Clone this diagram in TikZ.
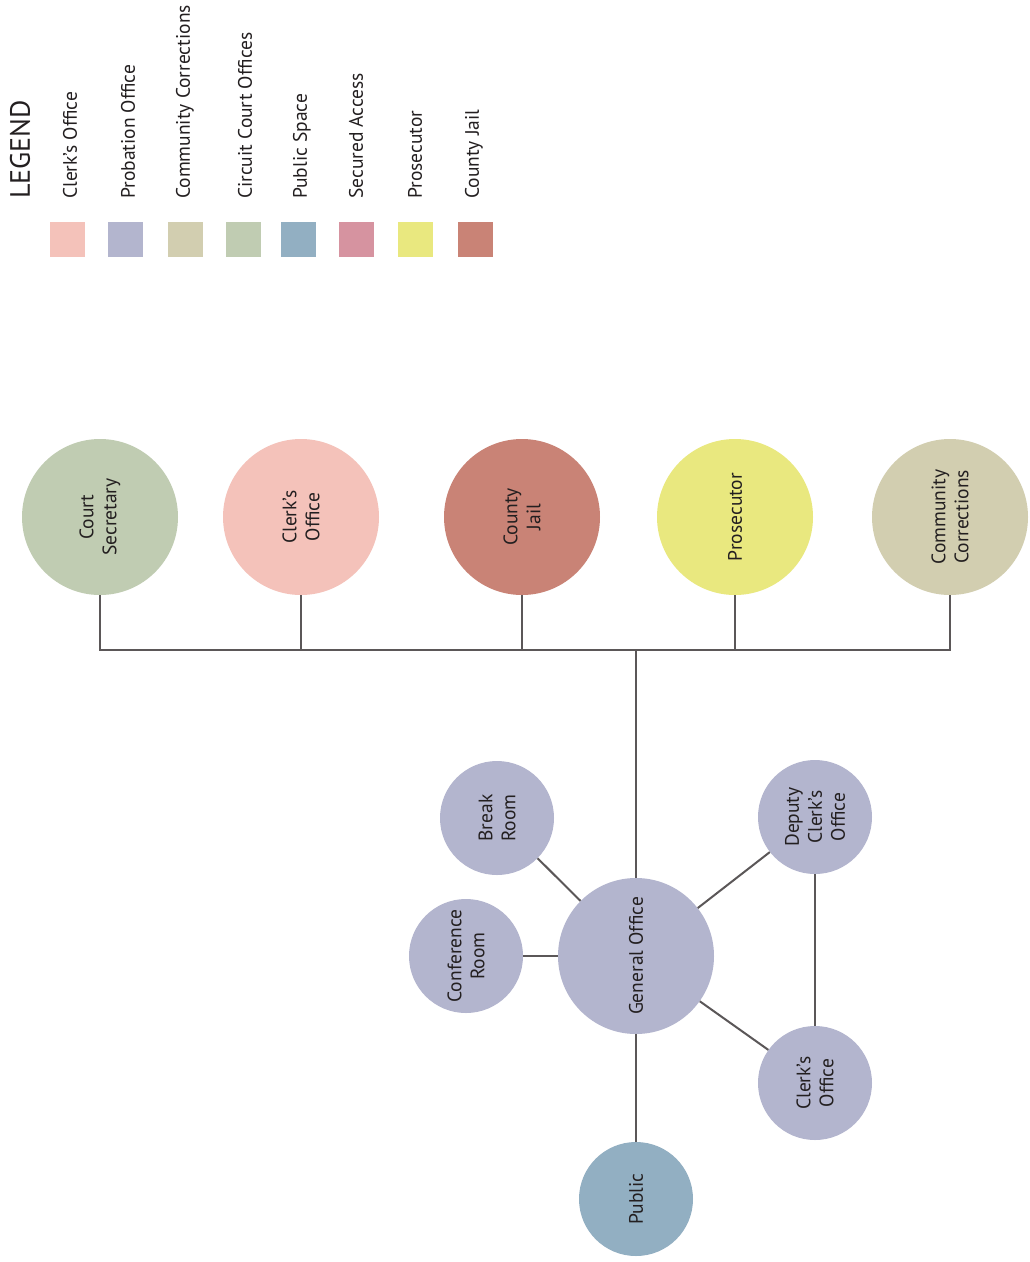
\documentclass[tikz,border=0pt]{standalone}
\usepackage{fontspec}
\setmainfont{PT Sans}
\definecolor{clerk}{HTML}{F4C2BA}
\definecolor{probation}{HTML}{B3B5CE}
\definecolor{commcorr}{HTML}{D2CEB0}
\definecolor{circuit}{HTML}{C0CCB2}
\definecolor{publicsp}{HTML}{92AFC2}
\definecolor{secured}{HTML}{D693A0}
\definecolor{prosec}{HTML}{E9E87F}
\definecolor{jail}{HTML}{C98376}
\definecolor{linec}{HTML}{5B5758}
\definecolor{txt}{HTML}{231F20}
\tikzset{
  bigc/.style={circle,draw=none,fill=#1,minimum size=156pt,inner sep=0pt,rotate=90,align=center,
     font=\fontsize{19.5}{23}\selectfont,text=txt},
  smallc/.style={circle,draw=none,fill=#1,minimum size=114pt,inner sep=0pt,rotate=90,align=center,
     font=\fontsize{19.5}{23}\selectfont,text=txt},
  conn/.style={draw=linec,line width=2pt},
  swatch/.style={rectangle,draw=none,fill=#1,minimum size=35pt,inner sep=0pt},
  leglabel/.style={rotate=90,anchor=west,inner sep=0pt,font=\fontsize{19.5}{22}\selectfont,text=txt},
}
\begin{document}
\begin{tikzpicture}[x=1pt,y=-1pt]
\useasboundingbox[fill=white] (0,0) rectangle (1029,1262);
% legend
\node[rotate=90,anchor=west,inner sep=0pt,font=\fontsize{28}{30}\selectfont,text=txt] (legend) at (20,199) {LEGEND};
\node[leglabel] (l1) at (70,199) {Clerk’s Office};
\node[leglabel] (l2) at (128,199) {Probation Office};
\node[leglabel] (l3) at (185,199) {Community Corrections};
\node[leglabel] (l4) at (245,199) {Circuit Court Offices};
\node[leglabel] (l5) at (302,199) {Public Space};
\node[leglabel] (l6) at (356,199) {Secured Access};
\node[leglabel] (l7) at (415,199) {Prosecutor};
\node[leglabel] (l8) at (474,199) {County Jail};
\node[swatch=clerk] (s1) at (67.5,239.5) {};
\node[swatch=probation] (s2) at (125.5,239.5) {};
\node[swatch=commcorr] (s3) at (185.5,239.5) {};
\node[swatch=circuit] (s4) at (243.5,239.5) {};
\node[swatch=publicsp] (s5) at (298.5,239.5) {};
\node[swatch=secured] (s6) at (356.5,239.5) {};
\node[swatch=prosec] (s7) at (415.5,239.5) {};
\node[swatch=jail] (s8) at (475.5,239.5) {};
% top row
\node[bigc=circuit] (cs) at (100,517) {Court\\Secretary};
\node[bigc=clerk] (co) at (301,517) {Clerk’s\\Office};
\node[bigc=jail] (cj) at (522,517) {County\\Jail};
\node[bigc=prosec] (pr) at (735,517) {Prosecutor};
\node[bigc=commcorr] (cc) at (950,517) {Community\\Corrections};
\coordinate (bus) at (636,650);
% bottom cluster
\node[bigc=probation] (go) at (636,956) {General Office};
\node[smallc=probation] (br) at (497,818) {Break\\Room};
\node[smallc=probation] (cr) at (466,956) {Conference\\Room};
\node[smallc=probation] (dc) at (815,817) {Deputy\\Clerk’s\\Office};
\node[smallc=probation] (ck) at (815,1083) {Clerk’s\\Office};
\node[smallc=publicsp] (pu) at (636,1199) {Public};
% connectors
\draw[conn] (cs) -- (cs |- bus) -- (cc |- bus) -- (cc);
\draw[conn] (co) -- (co |- bus);
\draw[conn] (cj) -- (cj |- bus);
\draw[conn] (pr) -- (pr |- bus);
\draw[conn] (bus) -- (go);
\draw[conn] (go) -- (br);
\draw[conn] (go) -- (cr);
\draw[conn] (go) -- (dc);
\draw[conn] (go) -- (ck);
\draw[conn] (dc) -- (ck);
\draw[conn] (go) -- (pu);
\end{tikzpicture}
\end{document}
